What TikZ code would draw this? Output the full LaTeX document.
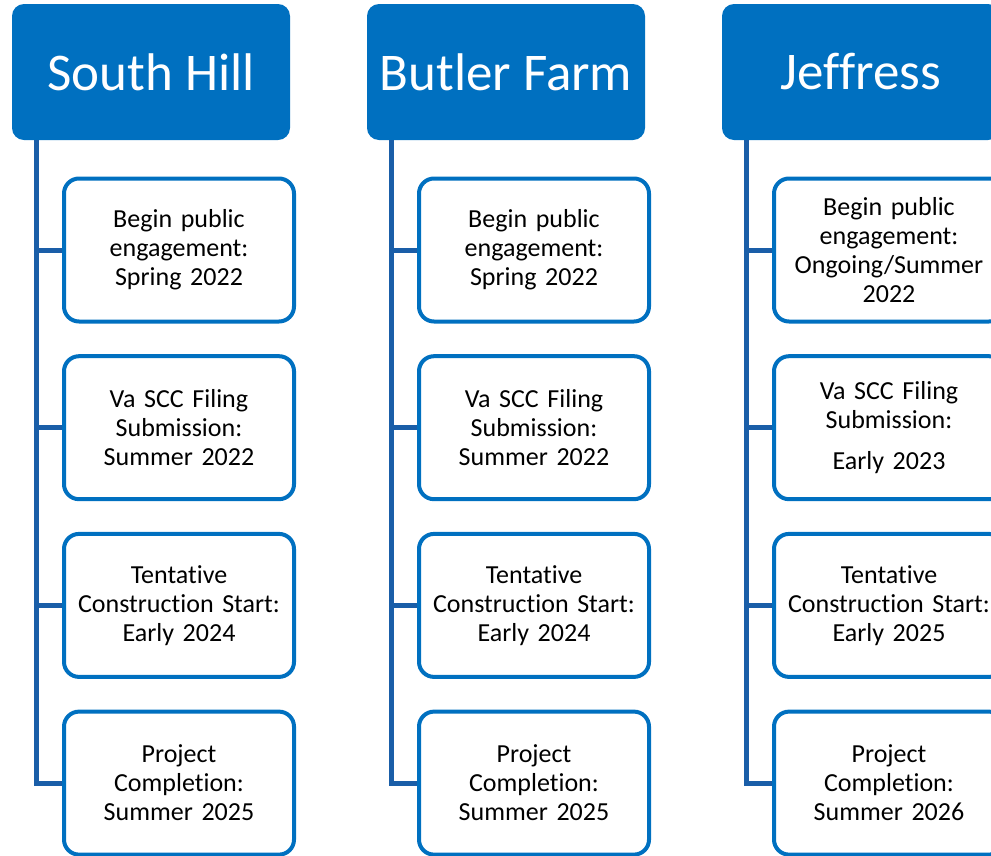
\documentclass[tikz,border=0pt]{standalone}
\usepackage{fontspec}
\setmainfont{Carlito}[Ligatures=NoCommon]
\usetikzlibrary{positioning}
\definecolor{hdrblue}{HTML}{0070C0}
\definecolor{linkblue}{HTML}{1A5EA8}
\tikzstyle{header} = [rectangle, rounded corners=12pt, minimum width=278pt, minimum height=136pt, fill=hdrblue, text=white, font=\fontsize{53}{64}\selectfont, text centered]
\tikzstyle{stage} = [rectangle, rounded corners=15pt, minimum width=230pt, minimum height=143pt, text width=222pt, inner sep=2pt, align=center, draw=hdrblue, fill=white, line width=4pt, font=\fontsize{26}{29}\selectfont]
\tikzstyle{branch} = [linkblue, line width=5pt]

\begin{document}
\begin{tikzpicture}[x=1pt, y=1pt, node distance=177.7pt]
		\clip (0,0) rectangle (991,-855);
		%project headers
		\node (sh) [header] at (151,-72) {South Hill};
		\node (bf) [header] at (506,-72) {Butler Farm};
		\node (jf) [header] at (861,-72) {Jeffress};
		
		%South Hill stages
		\node (sh1) [stage] at (179,-250) {Begin public\\ engagement:\\ Spring 2022};
		\node (sh2) [stage, below of=sh1] {Va SCC Filing\\ Submission:\\ Summer 2022};
		\node (sh3) [stage, below of=sh2] {Tentative\\ Construction Start:\\ Early 2024};
		\node (sh4) [stage, below of=sh3] {Project\\ Completion:\\ Summer 2025};
		
		%Butler Farm stages
		\node (bf1) [stage] at (534,-250) {Begin public\\ engagement:\\ Spring 2022};
		\node (bf2) [stage, below of=bf1] {Va SCC Filing\\ Submission:\\ Summer 2022};
		\node (bf3) [stage, below of=bf2] {Tentative\\ Construction Start:\\ Early 2024};
		\node (bf4) [stage, below of=bf3] {Project\\ Completion:\\ Summer 2025};
		
		%Jeffress stages
		\node (jf1) [stage] at (889,-250) {Begin public\\ engagement:\\ Ongoing/Summer\\ 2022};
		\node (jf2) [stage, below of=jf1] {Va SCC Filing\\ Submission:\\[12pt] Early 2023};
		\node (jf3) [stage, below of=jf2] {Tentative\\ Construction Start:\\ Early 2025};
		\node (jf4) [stage, below of=jf3] {Project\\ Completion:\\ Summer 2026};
		
		%trunks and branches
		\coordinate (shtop) at ([xshift=25pt]sh.south west);
		\coordinate (bftop) at ([xshift=25pt]bf.south west);
		\coordinate (jftop) at ([xshift=25pt]jf.south west);
		\draw [branch](shtop) |- (sh4.west);
		\draw [branch](bftop) |- (bf4.west);
		\draw [branch](jftop) |- (jf4.west);
		\foreach \i in {1,2,3}{
			\draw [branch](shtop |- sh\i.west) -- (sh\i.west);
			\draw [branch](bftop |- bf\i.west) -- (bf\i.west);
			\draw [branch](jftop |- jf\i.west) -- (jf\i.west);
		}
	\end{tikzpicture}
\end{document}
